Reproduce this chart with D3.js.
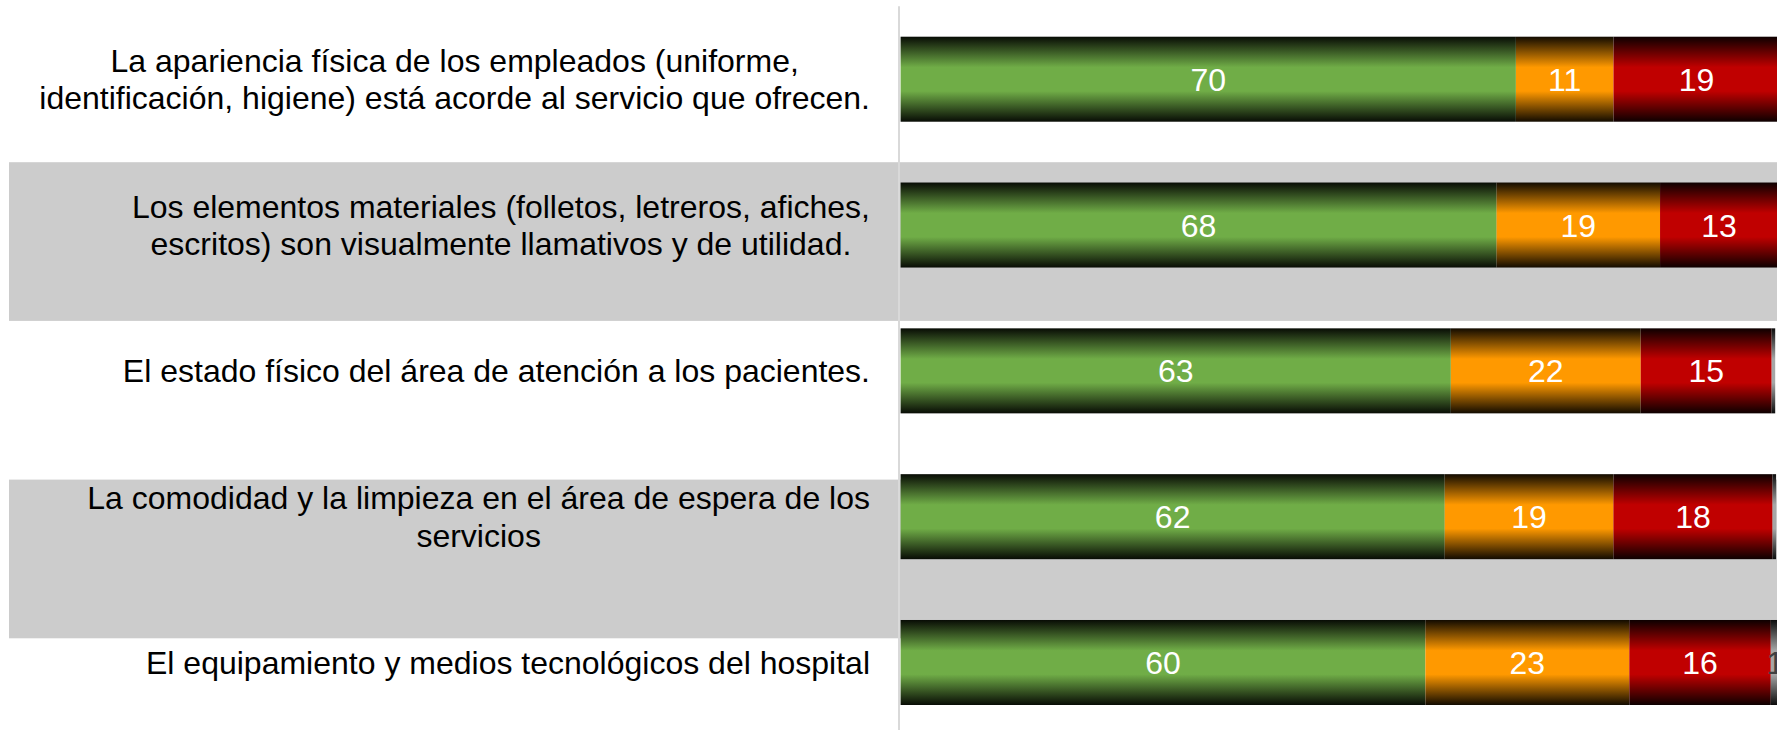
<!DOCTYPE html>
<html>
<head>
<meta charset="utf-8">
<script src="https://cdn.jsdelivr.net/npm/d3@7"></script>
<style>
  html, body { margin: 0; padding: 0; background: #ffffff; overflow: hidden; }
  svg { display: block; }
  text { font-family: "Liberation Sans", Arial, sans-serif; }
</style>
</head>
<body>
<svg id="chart" width="1777" height="730"></svg>
<script>
// ---- data ----
const categories = [
  "La apariencia física de los empleados (uniforme,\nidentificación, higiene) está acorde al servicio que ofrecen.",
  "Los elementos materiales (folletos, letreros, afiches,\nescritos) son visualmente llamativos y de utilidad.",
  "El estado físico del área de atención a los pacientes.",
  "La comodidad y la limpieza en el área de espera de los\nservicios",
  "El equipamiento y medios tecnológicos del hospital"
];
const seriesKeys = ["verde", "naranja", "rojo", "gris"];
const verde   = [70.0, 67.8, 62.6, 61.9, 59.7];
const naranja = [11.1, 18.6, 21.6, 19.2, 23.2];
const rojo    = [18.9, 13.4, 14.9, 18.1, 16.1];
const gris    = [0.0, 0.0, 0.4, 0.4, 1.0];
const xDomain = [0, 100];
const sheetRows = [0, 1, 2, 3, 4];

// ---- styles ----
const colors = { verde: "#70AD47", naranja: "#FF9900", rojo: "#C00000", gris: "#A6A6A6" };
const labelColors = { verde: "#ffffff", naranja: "#ffffff", rojo: "#ffffff", gris: "#404040" };

const W = 1777, H = 730;
const svg = d3.select("#chart");

const table = categories.map((c, i) => ({
  cat: c, verde: verde[i], naranja: naranja[i], rojo: rojo[i], gris: gris[i]
}));
const stacked = d3.stack().keys(seriesKeys)(table);

const x = d3.scaleLinear().domain(xDomain).range([900.6, 1779.6]);
const y = d3.scaleBand().domain(categories).range([6.3, 735.4])
  .paddingInner(0.417).paddingOuter(0.2085);

// spreadsheet row backgrounds
const rowScale = d3.scaleBand().domain(sheetRows).range([3.5, 3.5 + 158.7 * 5]);
svg.append("g").selectAll("rect").data(sheetRows.filter(r => r % 2 === 1)).join("rect")
  .attr("x", 9).attr("width", W - 9)
  .attr("y", d => rowScale(d)).attr("height", rowScale.bandwidth())
  .attr("fill", "#CCCCCC");

// gradients
const defs = svg.append("defs");
seriesKeys.forEach(k => {
  const g = defs.append("linearGradient").attr("id", "grad-" + k)
    .attr("x1", 0).attr("y1", 0).attr("x2", 0).attr("y2", 1);
  const dark = d3.interpolateRgb(colors[k], "#000")(0.93);
  [[0, dark], [0.36, colors[k]], [0.64, colors[k]], [1, dark]].forEach(([o, c]) =>
    g.append("stop").attr("offset", o).attr("stop-color", c));
});

// axis line
const axis = d3.axisLeft(y).tickSize(0).tickFormat("");
const axG = svg.append("g").attr("transform", "translate(899,0)").call(axis);
axG.select(".domain").attr("stroke", "#D9D9D9").attr("stroke-width", 2)
  .attr("d", `M0,${y.range()[0]}V${H}`);

// bars
const layers = svg.append("g").selectAll("g").data(stacked).join("g")
  .attr("fill", d => `url(#grad-${d.key})`);
layers.selectAll("rect").data(d => d).join("rect")
  .attr("x", d => x(d[0]))
  .attr("width", d => Math.max(0, x(d[1]) - x(d[0])))
  .attr("y", d => y(d.data.cat))
  .attr("height", y.bandwidth());

// value labels
const fmt = v => String(Math.round(v + 1e-9));
const lab = svg.append("g").attr("font-size", 32).attr("text-anchor", "middle");
stacked.forEach(layer => {
  lab.selectAll(null).data(layer.filter(d => Math.round(d.data[layer.key]) > 0)).join("text")
    .attr("x", d => (x(d[0]) + x(d[1])) / 2)
    .attr("y", d => y(d.data.cat) + y.bandwidth() / 2)
    .attr("dy", "0.36em")
    .attr("fill", labelColors[layer.key])
    .text(d => fmt(d.data[layer.key]));
});

// category labels: block right-aligned at 870, lines centered in block
const lineH = 37.4;
const catG = svg.append("g").attr("font-size", 32).attr("fill", "#000");
categories.forEach(c => {
  const lines = c.split("\n");
  const t = catG.append("text").attr("text-anchor", "middle");
  const spans = lines.map((ln, i) => t.append("tspan").text(ln)
    .attr("y", y(c) + y.bandwidth() / 2 + (i - (lines.length - 1) / 2) * lineH)
    .attr("dy", "0.36em"));
  const maxW = d3.max(spans, s => s.node().getComputedTextLength());
  spans.forEach(s => s.attr("x", 870 - maxW / 2));
});
</script>
</body>
</html>
